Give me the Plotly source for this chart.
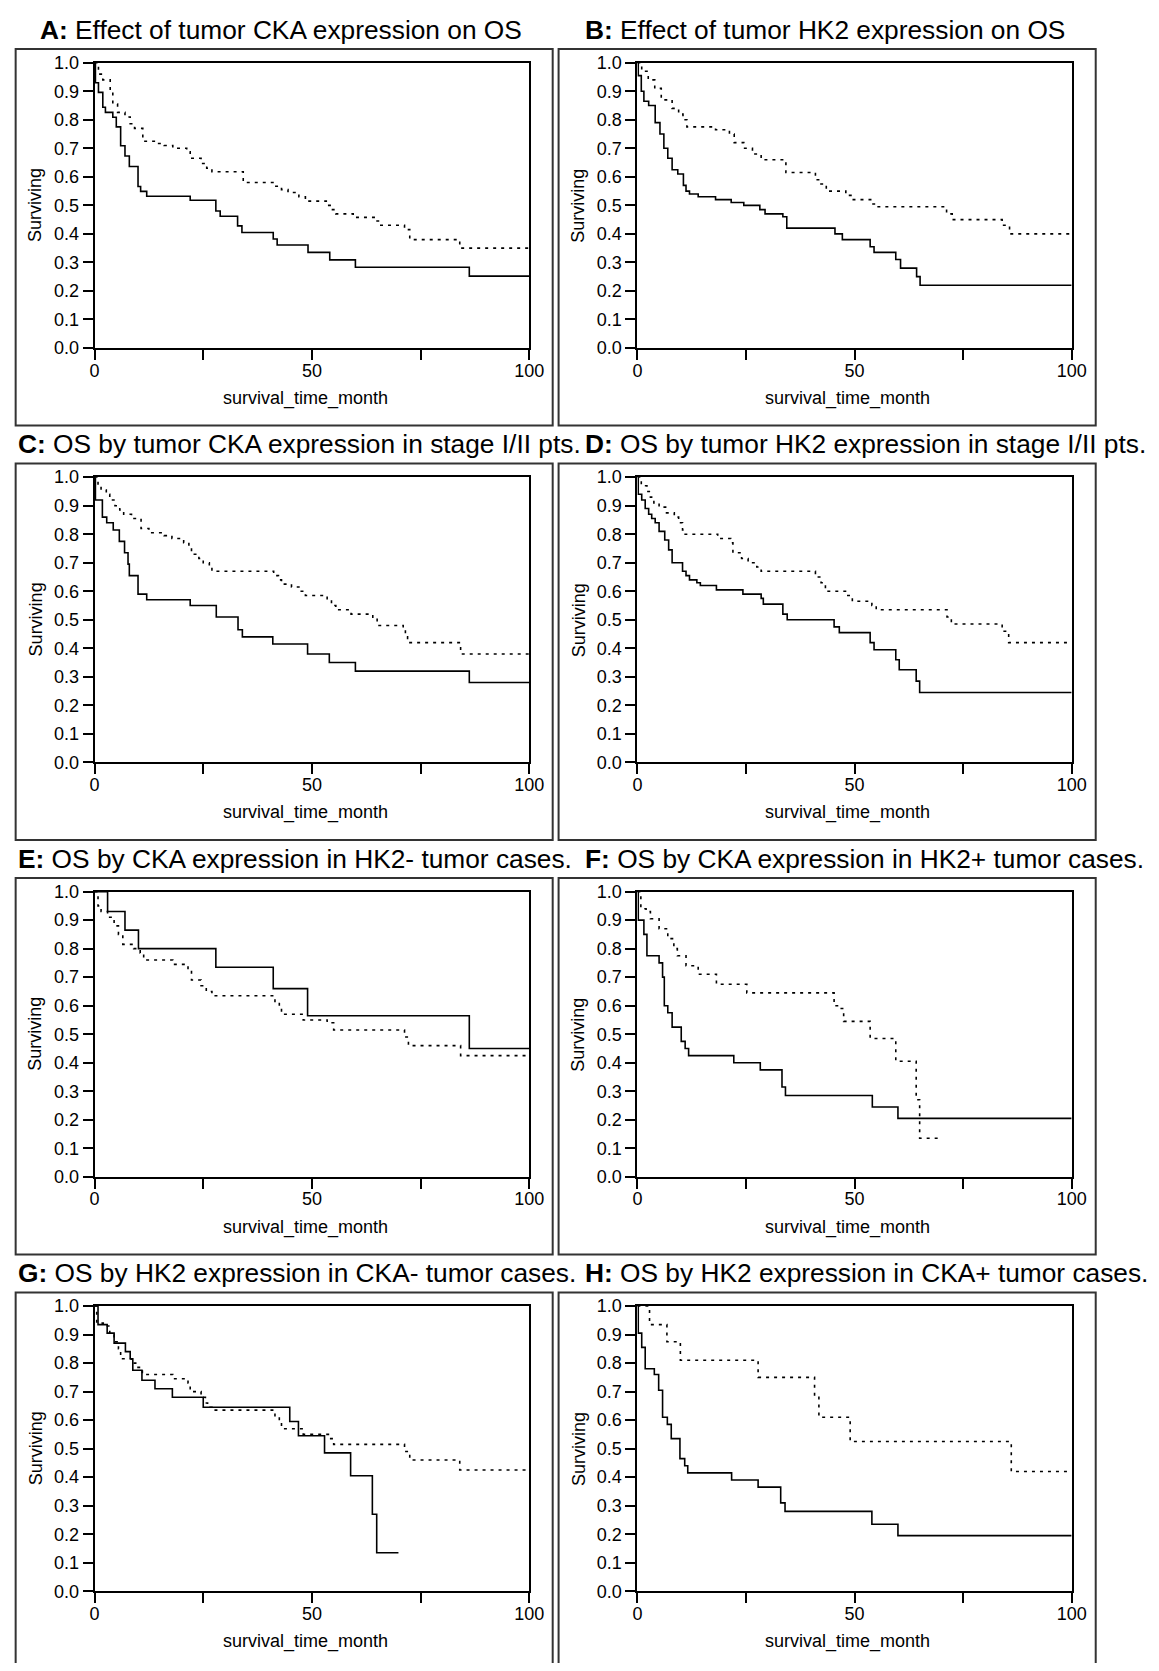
import plotly.graph_objects as go

# ---------------- data ----------------
titles = [
    "<b>A:</b> Effect of tumor CKA expression on OS",
    "<b>B:</b> Effect of tumor HK2 expression on OS",
    "<b>C:</b> OS by tumor CKA expression in stage I/II pts.",
    "<b>D:</b> OS by tumor HK2 expression in stage I/II pts.",
    "<b>E:</b> OS by CKA expression in HK2- tumor cases.",
    "<b>F:</b> OS by CKA expression in HK2+ tumor cases.",
    "<b>G:</b> OS by HK2 expression in CKA- tumor cases.",
    "<b>H:</b> OS by HK2 expression in CKA+ tumor cases.",
]
x_label = "survival_time_month"
y_label = "Surviving"
x_tick_vals = [0, 25, 50, 75, 100]
x_tick_text = ["0", "", "50", "", "100"]
y_tick_vals = [0.0, 0.1, 0.2, 0.3, 0.4, 0.5, 0.6, 0.7, 0.8, 0.9, 1.0]
y_tick_text = ["0.0", "0.1", "0.2", "0.3", "0.4", "0.5", "0.6", "0.7", "0.8", "0.9", "1.0"]

a_solid_t = [0, 0.2, 0.9, 1.9, 2.5, 4.2, 5.0, 6.0, 7.0, 8.0, 10.0, 10.6, 12.0, 22.0, 27.9, 28.9, 32.9, 33.9, 41.1, 42.0, 49.1, 54.1, 60.0, 86.2, 100]
a_solid_s = [1.0, 0.93, 0.896, 0.844, 0.826, 0.809, 0.775, 0.709, 0.673, 0.636, 0.566, 0.549, 0.532, 0.518, 0.48, 0.462, 0.428, 0.405, 0.382, 0.361, 0.335, 0.309, 0.283, 0.252, 0.252]
a_dot_t = [0, 0.9, 1.9, 3.6, 4.2, 5.3, 7.0, 8.2, 9.2, 11.1, 14.0, 16.0, 18.0, 21.2, 22.0, 24.5, 25.8, 27.0, 34.2, 41.5, 43.0, 44.5, 47.0, 48.5, 53.3, 54.5, 55.5, 59.5, 64.5, 65.5, 71.3, 72.5, 84.0, 100]
a_dot_s = [1.0, 0.96, 0.94, 0.90, 0.855, 0.826, 0.81, 0.786, 0.77, 0.725, 0.717, 0.71, 0.70, 0.688, 0.665, 0.647, 0.63, 0.618, 0.58, 0.567, 0.555, 0.545, 0.53, 0.515, 0.50, 0.485, 0.47, 0.458, 0.445, 0.43, 0.415, 0.38, 0.35, 0.35]

b_solid_t = [0, 0.2, 0.9, 1.5, 2.6, 4.1, 5.2, 6.1, 7.0, 8.0, 9.3, 10.6, 11.2, 12.0, 14.0, 18.0, 21.6, 24.5, 28.2, 29.4, 33.5, 34.4, 45.5, 47.2, 53.6, 54.5, 59.5, 60.6, 64.3, 65.1, 100]
b_solid_s = [1.0, 0.955, 0.90, 0.865, 0.85, 0.79, 0.75, 0.70, 0.665, 0.625, 0.61, 0.57, 0.55, 0.54, 0.53, 0.52, 0.51, 0.50, 0.485, 0.47, 0.46, 0.42, 0.40, 0.38, 0.355, 0.335, 0.31, 0.28, 0.25, 0.22, 0.22]
b_dot_t = [0, 1.0, 2.5, 4.0, 5.5, 8.0, 9.5, 10.5, 11.4, 18.0, 21.2, 22.3, 24.5, 26.5, 28.5, 34.2, 41.0, 42.0, 43.5, 48.0, 49.5, 54.0, 55.0, 71.2, 72.5, 84.0, 85.7, 100]
b_dot_s = [1.0, 0.97, 0.94, 0.91, 0.87, 0.84, 0.82, 0.80, 0.775, 0.765, 0.75, 0.72, 0.70, 0.68, 0.66, 0.615, 0.59, 0.575, 0.55, 0.535, 0.52, 0.505, 0.495, 0.47, 0.45, 0.43, 0.40, 0.40]

c_solid_t = [0, 0.2, 1.8, 2.8, 4.3, 5.7, 6.9, 7.7, 8.0, 10.0, 12.0, 22.0, 28.0, 33.0, 34.0, 41.0, 49.0, 54.0, 60.0, 86.2, 100]
c_solid_s = [1.0, 0.92, 0.86, 0.84, 0.815, 0.775, 0.735, 0.695, 0.655, 0.59, 0.57, 0.55, 0.51, 0.465, 0.44, 0.415, 0.38, 0.35, 0.32, 0.28, 0.28]
c_dot_t = [0, 0.8, 1.5, 2.7, 3.5, 4.7, 5.8, 6.7, 8.5, 10.7, 12.5, 16.0, 17.8, 20.5, 21.7, 22.3, 24.0, 25.0, 26.4, 27.0, 41.2, 42.3, 43.0, 45.3, 47.0, 48.5, 53.5, 54.5, 55.5, 59.0, 64.0, 65.0, 71.0, 71.5, 72.0, 84.2, 100]
c_dot_s = [1.0, 0.97, 0.955, 0.94, 0.92, 0.90, 0.885, 0.87, 0.855, 0.82, 0.805, 0.795, 0.785, 0.77, 0.755, 0.73, 0.715, 0.70, 0.685, 0.67, 0.655, 0.64, 0.625, 0.615, 0.60, 0.585, 0.57, 0.55, 0.535, 0.52, 0.505, 0.48, 0.465, 0.44, 0.42, 0.38, 0.38]

d_solid_t = [0, 0.2, 1.0, 1.8, 2.6, 3.3, 4.1, 5.0, 6.3, 7.2, 8.0, 10.4, 11.2, 12.0, 13.7, 14.5, 18.2, 24.3, 28.5, 29.0, 33.5, 34.5, 45.3, 46.5, 53.6, 54.5, 59.5, 60.3, 64.2, 65.0, 100]
d_solid_s = [1.0, 0.94, 0.92, 0.89, 0.87, 0.855, 0.84, 0.81, 0.78, 0.745, 0.70, 0.67, 0.655, 0.64, 0.63, 0.62, 0.605, 0.59, 0.575, 0.555, 0.52, 0.50, 0.475, 0.455, 0.42, 0.395, 0.36, 0.325, 0.285, 0.245, 0.245]
d_dot_t = [0, 0.9, 2.2, 3.0, 3.8, 5.0, 6.5, 8.5, 9.5, 10.4, 11.0, 18.5, 21.5, 22.0, 24.0, 25.5, 27.5, 28.5, 41.0, 42.3, 43.3, 48.2, 49.5, 54.0, 55.0, 71.3, 72.3, 84.0, 85.5, 100]
d_dot_s = [1.0, 0.97, 0.95, 0.93, 0.91, 0.895, 0.875, 0.86, 0.84, 0.815, 0.80, 0.785, 0.77, 0.735, 0.715, 0.70, 0.685, 0.67, 0.65, 0.63, 0.60, 0.585, 0.565, 0.55, 0.535, 0.51, 0.485, 0.46, 0.42, 0.42]

e_solid_t = [0, 3.0, 7.0, 10.1, 27.9, 41.1, 49.0, 86.2, 100]
e_solid_s = [1.0, 0.93, 0.865, 0.80, 0.735, 0.66, 0.565, 0.45, 0.45]
e_dot_t = [0, 0.8, 1.5, 3.0, 4.5, 5.5, 6.5, 9.0, 10.5, 11.3, 18.0, 21.5, 22.3, 24.5, 25.7, 27.0, 41.5, 42.5, 43.0, 48.0, 53.5, 55.0, 71.3, 72.2, 84.2, 100]
e_dot_s = [1.0, 0.95, 0.93, 0.91, 0.88, 0.85, 0.815, 0.80, 0.785, 0.76, 0.745, 0.725, 0.69, 0.67, 0.65, 0.635, 0.61, 0.595, 0.57, 0.55, 0.54, 0.515, 0.49, 0.46, 0.425, 0.425]

f_solid_t = [0, 0.2, 1.5, 2.2, 5.0, 5.8, 6.2, 7.0, 8.0, 10.1, 11.0, 11.8, 22.2, 28.3, 33.3, 34.1, 54.1, 60.0, 100]
f_solid_s = [1.0, 0.90, 0.85, 0.775, 0.75, 0.70, 0.60, 0.575, 0.525, 0.475, 0.45, 0.425, 0.40, 0.375, 0.315, 0.285, 0.245, 0.205, 0.205]
f_dot_t = [0, 0.8, 2.0, 3.0, 5.0, 7.0, 8.4, 9.2, 11.2, 14.0, 18.2, 25.2, 45.3, 46.5, 47.5, 53.6, 59.5, 64.2, 65.0, 70.0]
f_dot_s = [1.0, 0.94, 0.93, 0.905, 0.87, 0.835, 0.80, 0.775, 0.74, 0.71, 0.675, 0.645, 0.60, 0.59, 0.545, 0.485, 0.405, 0.27, 0.135, 0.135]

g_solid_t = [0, 0.8, 2.9, 4.5, 7.1, 8.2, 8.8, 10.9, 13.9, 17.9, 25.0, 44.9, 46.9, 52.9, 58.9, 63.9, 64.9, 69.9]
g_solid_s = [1.0, 0.935, 0.905, 0.87, 0.84, 0.815, 0.775, 0.74, 0.71, 0.68, 0.645, 0.595, 0.545, 0.485, 0.405, 0.27, 0.135, 0.135]
g_dot_t = [0, 0.5, 2.0, 3.5, 4.5, 5.5, 6.0, 8.5, 10.0, 11.0, 18.0, 21.5, 22.0, 24.5, 25.5, 26.0, 27.0, 41.5, 42.5, 43.0, 48.0, 54.0, 55.0, 71.3, 72.5, 84.0, 100]
g_dot_s = [1.0, 0.94, 0.93, 0.90, 0.875, 0.85, 0.815, 0.80, 0.785, 0.76, 0.745, 0.73, 0.70, 0.68, 0.66, 0.645, 0.635, 0.61, 0.59, 0.57, 0.55, 0.535, 0.515, 0.49, 0.46, 0.425, 0.425]

h_solid_t = [0, 0.2, 1.0, 1.8, 3.9, 4.9, 5.8, 6.9, 7.8, 9.8, 10.9, 11.6, 21.7, 27.8, 33.0, 34.0, 54.0, 60.0, 100]
h_solid_s = [1.0, 0.905, 0.855, 0.78, 0.76, 0.705, 0.61, 0.585, 0.535, 0.465, 0.44, 0.415, 0.39, 0.365, 0.31, 0.28, 0.235, 0.195, 0.195]
h_dot_t = [0, 2.8, 6.8, 9.9, 27.8, 40.8, 41.8, 49.0, 86.1, 100]
h_dot_s = [1.0, 0.935, 0.875, 0.81, 0.75, 0.68, 0.61, 0.525, 0.42, 0.42]

panels = [
    (a_solid_t, a_solid_s, a_dot_t, a_dot_s),
    (b_solid_t, b_solid_s, b_dot_t, b_dot_s),
    (c_solid_t, c_solid_s, c_dot_t, c_dot_s),
    (d_solid_t, d_solid_s, d_dot_t, d_dot_s),
    (e_solid_t, e_solid_s, e_dot_t, e_dot_s),
    (f_solid_t, f_solid_s, f_dot_t, f_dot_s),
    (g_solid_t, g_solid_s, g_dot_t, g_dot_s),
    (h_solid_t, h_solid_s, h_dot_t, h_dot_s),
]

# ---------------- layout geometry (page pixels) ----------------
PAGE_W, PAGE_H = 1159, 1671
OFF = 8  # default body margin of the html page
W, H = PAGE_W - 2 * OFF, PAGE_H - 2 * OFF
FONT = "Liberation Sans, Arial, Helvetica, sans-serif"
col_plot = [(91.0, 533.5), (643.5, 1085.5)]
col_box = [(10.7, 557.3), (563.3, 1110.0)]
col_title_x = [[33.0, 11.0, 11.0, 11.0], [588.0, 588.0, 588.0, 588.0]]
pitch = 419.5
plot_top0, plot_bot0 = 53.3, 342.0
box_top0, box_bot0 = 39.5, 420.5
title_y0 = 20.0
xlab_y0 = 393.0


def px(x):
    return (x - OFF) / W


def py(y):
    return 1 - (y - OFF) / H


fig = go.Figure()
shapes = []
annotations = []
layout_axes = {}

for i, (st, ss, dt, ds) in enumerate(panels):
    r, c = divmod(i, 2)
    n = "" if i == 0 else str(i + 1)
    x0, x1 = col_plot[c]
    top = plot_top0 + pitch * r
    bot = plot_bot0 + pitch * r

    common = dict(
        showgrid=False, zeroline=False, showline=True, linewidth=2, linecolor="black",
        mirror=True, ticks="outside", ticklen=10, tickwidth=2, tickcolor="black",
        tickfont=dict(family=FONT, size=18, color="black"), fixedrange=True,
    )
    layout_axes["xaxis" + n] = dict(
        domain=[px(x0), px(x1)], anchor="y" + n, range=[0, 100], ticklabelstandoff=-5,
        tickmode="array", tickvals=x_tick_vals, ticktext=x_tick_text, **common)
    layout_axes["yaxis" + n] = dict(
        domain=[py(bot), py(top)], anchor="x" + n, range=[0, 1],
        tickmode="array", tickvals=y_tick_vals, ticktext=y_tick_text, **common)

    fig.add_trace(go.Scatter(
        x=dt, y=ds, mode="lines", line=dict(shape="hv", color="black", width=1.6, dash="3px,5px"),
        xaxis="x" + n, yaxis="y" + n, showlegend=False, hoverinfo="skip"))
    fig.add_trace(go.Scatter(
        x=st, y=ss, mode="lines", line=dict(shape="hv", color="black", width=1.6),
        xaxis="x" + n, yaxis="y" + n, showlegend=False, hoverinfo="skip"))

    bx0, bx1 = col_box[c]
    shapes.append(dict(type="rect", xref="paper", yref="paper",
                       x0=px(bx0), x1=px(bx1), y0=py(box_bot0 + pitch * r), y1=py(box_top0 + pitch * r),
                       line=dict(color="#333333", width=2), fillcolor="rgba(0,0,0,0)", layer="below"))

    annotations.append(dict(text=titles[i], xref="paper", yref="paper",
                            x=px(col_title_x[c][r]), y=py(title_y0 + pitch * r),
                            xanchor="left", yanchor="middle", showarrow=False,
                            font=dict(family=FONT, size=26.3, color="black")))
    annotations.append(dict(text=x_label, xref="paper", yref="paper",
                            x=px((x0 + x1) / 2 - 7), y=py(xlab_y0 + pitch * r),
                            xanchor="center", yanchor="middle", showarrow=False,
                            font=dict(family=FONT, size=18, color="black")))
    annotations.append(dict(text=y_label, xref="paper", yref="paper", textangle=-90,
                            x=px(x0 - 60), y=py((top + bot) / 2),
                            xanchor="center", yanchor="middle", showarrow=False,
                            font=dict(family=FONT, size=18, color="black")))

fig.update_layout(
    width=W, height=H, margin=dict(l=0, r=0, t=0, b=0),
    paper_bgcolor="white", plot_bgcolor="white",
    shapes=shapes, annotations=annotations, **layout_axes,
)

fig.write_html("out.html", config={"displayModeBar": False})
